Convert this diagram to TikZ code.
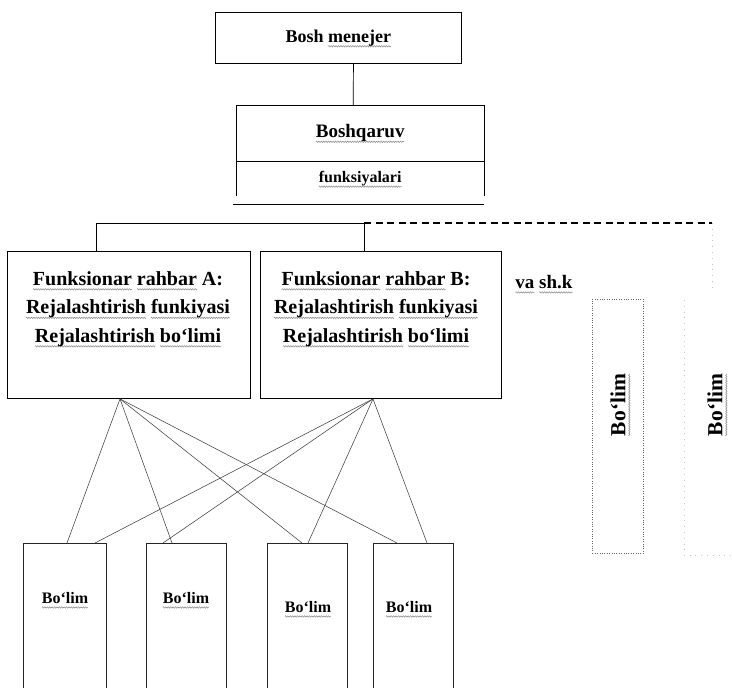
\documentclass[tikz,border=0pt]{standalone}
\usepackage{fontspec}
\usetikzlibrary{decorations.pathmorphing}
\setmainfont{Liberation Serif}
% grey spell-check style wave under a word
\newsavebox\sqbox
\newcommand\sq[1]{\sbox\sqbox{#1}\rlap{\tikz[overlay,baseline=0pt]\draw[black!50,line width=0.45pt,line join=round,decorate,decoration={zigzag,amplitude=0.8pt,segment length=2.4pt}] (0pt,-4pt) -- (\the\wd\sqbox,-4pt);}\usebox\sqbox}
\begin{document}
\begin{tikzpicture}[x=1pt,y=-1pt,
  frame/.style={inner sep=0pt, anchor=north west},
  box/.style={frame, draw, line width=0.9pt},
  fan/.style={draw=black!75, line width=0.55pt},
  faint/.style={draw=black!22, line width=0.5pt, dash pattern=on 0.8pt off 5pt},
  dotbox/.style={frame, draw=black!60, line width=0.6pt, dash pattern=on 0.8pt off 1.6pt},
  t16/.style={font=\bfseries\fontsize{16}{18}\selectfont, inner sep=0pt},
  t19/.style={font=\bfseries\fontsize{19}{21}\selectfont, inner sep=0pt},
  t22/.style={font=\bfseries\fontsize{21.5}{23}\selectfont, inner sep=0pt},
  multi/.style={font=\bfseries\fontsize{20}{28.5}\selectfont, align=center, inner sep=0pt}]
\useasboundingbox (0,0) rectangle (732,688);

% top manager
\node[box, font=\bfseries\fontsize{18}{20}\selectfont, minimum width=246pt, minimum height=51pt] (top) at (215,12) {Bosh \sq{menejer}};

% management functions block
\node[frame, t19, minimum width=248pt, minimum height=56pt] (bq) at (236,105) {\sq{Boshqaruv}};
\node[frame, t16, minimum width=248pt, minimum height=35pt] (fk) at (236,161) {\sq{funksiyalari}};
\draw[line width=0.9pt] (fk.south west) |- (bq.north east) -- (fk.south east);
\draw[line width=0.9pt] (bq.south west) -- (bq.south east);
\draw[line width=0.9pt] ([xshift=-3pt,yshift=-8pt]fk.south west) -- ([yshift=-8pt]fk.south east);
\draw[line width=0.7pt] ([xshift=15pt]top.south) -- ([xshift=-7pt]bq.north);

% functional heads
\node[box, minimum width=243pt, minimum height=147pt] (A) at (7,251) {};
\node[box, minimum width=241pt, minimum height=147pt] (B) at (260,251) {};
\node[multi] (tA) at (128,309) {\sq{Funksionar} \sq{rahbar} A:\\\sq{Rejalashtirish} \sq{funkiyasi}\\\sq{Rejalashtirish} \sq{bo‘limi}};
\node[multi] (tB) at (376,309) {\sq{Funksionar} \sq{rahbar} B:\\\sq{Rejalashtirish} \sq{funkiyasi}\\\sq{Rejalashtirish} \sq{bo‘limi}};
\node[t19] (etc) at (544,282) {\sq{va} \sq{sh.k}};

% branch line
\coordinate (hl) at (96,223);
\coordinate (hr) at (364,223);
\coordinate (dend) at (712,223);
\coordinate (dlow) at (712,290);
\draw[line width=0.7pt] (A.north -| hl) -- (hl) -- (hr) -- (B.north -| hr);
\draw[line width=1.1pt, dash pattern=on 7pt off 4.5pt] (hr) -- (dend);
\draw[faint] (dend) -- (dlow);

% further departments
\node[dotbox, minimum width=51pt, minimum height=254pt] (d1) at (592,299) {};
\node[t22, rotate=90] (r1) at (618,405) {\sq{Bo‘lim}};
\node[frame, minimum width=62pt, minimum height=255pt] (d2) at (684,300) {};
\draw[faint] (d2.north west) |- (d2.south east);
\node[t22, rotate=90] (r2) at (715,405) {\sq{Bo‘lim}};

% departments
\node[frame, minimum width=83pt, minimum height=150pt] (b1) at (23,543) {};
\node[frame, minimum width=80pt, minimum height=150pt] (b2) at (146,543) {};
\node[frame, minimum width=80pt, minimum height=150pt] (b3) at (267,543) {};
\node[frame, minimum width=80pt, minimum height=150pt] (b4) at (373,543) {};
\foreach \b in {b1,b2,b3,b4}
  \draw[line width=0.8pt, draw=black!85] (\b.south west) |- (\b.north east) -- (\b.south east);
\node[t16] (l1) at (65,598) {\sq{Bo‘lim}};
\node[t16] (l2) at (186,598) {\sq{Bo‘lim}};
\node[t16] (l3) at (308,607) {\sq{Bo‘lim}};
\node[t16] (l4) at (409,607) {\sq{Bo‘lim}};

% links from the functional heads to every department
\coordinate (pA) at ([xshift=113pt]A.south west);
\coordinate (pB) at ([xshift=113pt]B.south west);
\draw[fan] (pA) -- ([xshift=44pt]b1.north west);
\draw[fan] (pA) -- ([xshift=26pt]b2.north west);
\draw[fan] (pA) -- ([xshift=35pt]b3.north west);
\draw[fan] (pA) -- ([xshift=24pt]b4.north west);
\draw[fan] (pB) -- ([xshift=72pt]b1.north west);
\draw[fan] (pB) -- ([xshift=17pt]b2.north west);
\draw[fan] (pB) -- ([xshift=41pt]b3.north west);
\draw[fan] (pB) -- ([xshift=54pt]b4.north west);
\end{tikzpicture}
\end{document}
